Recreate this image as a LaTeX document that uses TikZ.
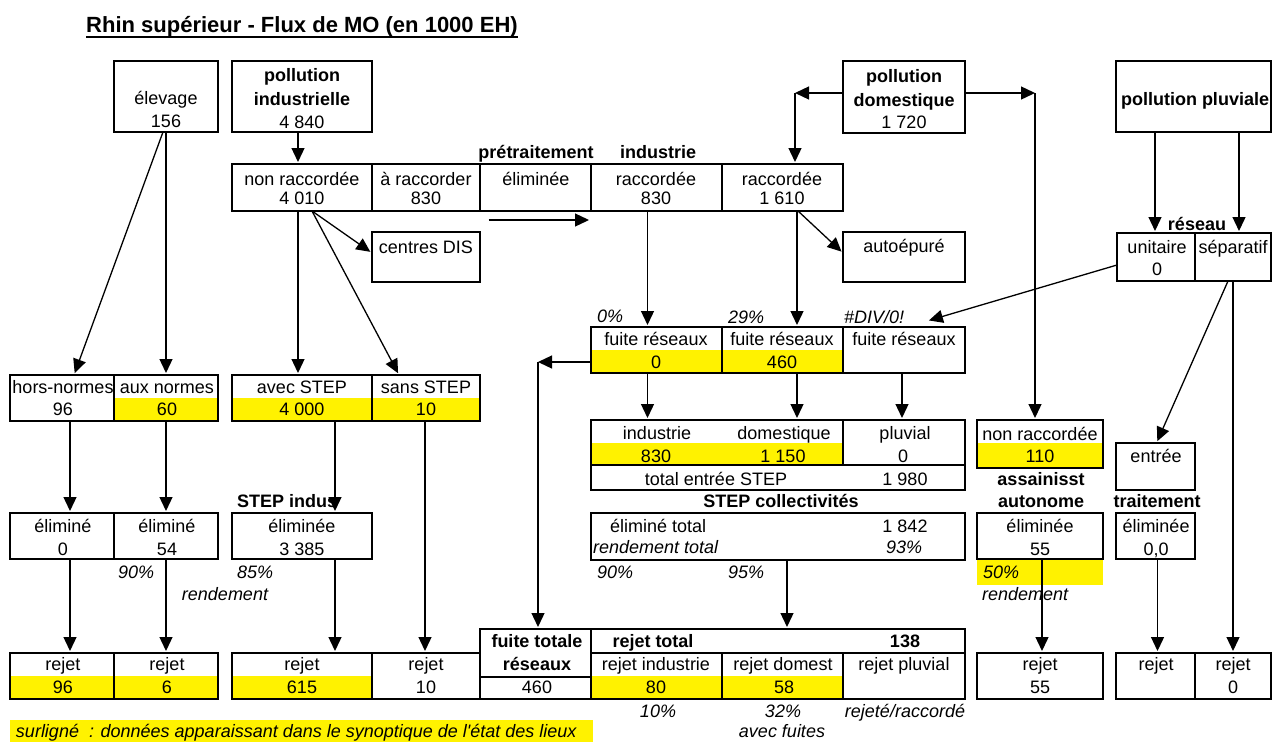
\documentclass[tikz,border=0pt]{standalone}
\usepackage{fontspec}
\setmainfont{Liberation Sans}
\usetikzlibrary{arrows.meta,calc}

\tikzset{
  cellb/.style={draw, line width=1.3pt, inner sep=0pt, outer sep=0pt},
  frameb/.style={draw, line width=2.2pt, inner sep=0pt, outer sep=0pt},
  txt/.style={anchor=base, inner sep=0pt, outer sep=0pt, font=\fontsize{18}{22}\selectfont},
  bld/.style={font=\fontsize{18}{22}\selectfont\bfseries},
  itl/.style={font=\fontsize{18}{22}\selectfont\itshape},
  arr/.style={line width=1.3pt, -{Triangle[length=14pt,width=13pt]}, shorten >=2pt},
}

% box node from its corners: [style]{name}{x1}{y1}{x2}{y2}
\newcommand{\bx}[6][cellb]{\node[#1, minimum width={#5pt-#3pt}, minimum height={#6pt-#4pt}] (#2) at ({(#3+#5)/2},{(#4+#6)/2}) {};}
% text node on a baseline: [style]{name}{x,y}{text}
\newcommand{\tx}[4][]{\node[txt,#1] (#2) at (#3) {#4};}

\begin{document}
\begin{tikzpicture}[x=1pt,y=-1pt]
\useasboundingbox (0,0) rectangle (1273,742);

% highlighted values
\fill[yellow] (114,398) rectangle (218,421);
\fill[yellow] (232,398) rectangle (480,421);
\fill[yellow] (591,350) rectangle (843,373);
\fill[yellow] (591,443) rectangle (843,465);
\fill[yellow] (977,443) rectangle (1103,468);
\fill[yellow] (977,560) rectangle (1103,585);
\fill[yellow] (10,676) rectangle (218,699);
\fill[yellow] (232,676) rectangle (372,699);
\fill[yellow] (591,676) rectangle (843,699);
\fill[yellow] (10,720) rectangle (593,742);

% title
\node[anchor=base west, inner sep=0pt, font=\fontsize{22}{26}\selectfont\bfseries] (title) at (86,32) {Rhin supérieur - Flux de MO (en 1000 EH)};
\draw[line width=1.6pt] ([yshift=-5pt]title.base west) -- ([yshift=-5pt]title.base east);

% sources
\bx[frameb]{elev}{114}{61}{218}{132}
\bx[frameb]{pind}{232}{61}{372}{132}
\bx[frameb]{pdom}{843}{61}{965}{133}
\bx[frameb]{ppluv}{1116}{61}{1271}{132}

% connection row
\bx{nr}{232}{164}{372}{211}
\bx{ar}{372}{164}{480}{211}
\bx{pe}{480}{164}{591}{211}
\bx{ri}{591}{164}{722}{211}
\bx{rd}{722}{164}{843}{211}
\bx[frameb]{row2}{232}{164}{843}{211}
\bx[frameb]{cdis}{372}{232}{480}{282}
\bx[frameb]{auto}{843}{232}{965}{282}

% rain network
\bx{uni}{1117}{233}{1195}{281}
\bx{sep}{1195}{233}{1271}{281}
\bx[frameb]{res}{1117}{233}{1271}{281}

% network leaks
\bx{f1}{591}{327}{722}{373}
\bx{f2}{722}{327}{843}{373}
\bx{f3}{843}{327}{965}{373}
\bx[frameb]{fr}{591}{327}{965}{373}

% treatment plant input and output
\bx{se1}{591}{420}{843}{465}
\bx{se2}{843}{420}{965}{465}
\bx{se3}{591}{465}{965}{490}
\bx[frameb]{se}{591}{420}{965}{490}
\bx[frameb]{sc}{591}{513}{965}{560}

% total discharge
\bx{bt1}{480}{629}{591}{677}
\bx{bt2}{480}{677}{591}{699}
\bx{bt3}{591}{629}{965}{653}
\bx{bt4}{591}{653}{722}{699}
\bx{bt5}{722}{653}{843}{699}
\bx{bt6}{843}{653}{965}{699}
\bx[frameb]{bt}{480}{629}{965}{699}

% livestock and industry columns
\bx{hn}{10}{375}{114}{421}
\bx{an}{114}{375}{218}{421}
\bx[frameb]{hna}{10}{375}{218}{421}
\bx{as}{232}{375}{372}{421}
\bx{ss}{372}{375}{480}{421}
\bx[frameb]{avs}{232}{375}{480}{421}
\bx{e0}{10}{513}{114}{559}
\bx{e54}{114}{513}{218}{559}
\bx[frameb]{el}{10}{513}{218}{559}
\bx[frameb]{e3}{232}{513}{372}{559}
\bx{rj96}{10}{653}{114}{699}
\bx{rj6}{114}{653}{218}{699}
\bx[frameb]{rjl}{10}{653}{218}{699}
\bx{rj615}{232}{653}{372}{699}
\bx{rj10}{372}{653}{480}{699}
\bx[frameb]{rjm}{232}{653}{480}{699}

% on-site sanitation and rain treatment
\bx[frameb]{nr110}{977}{420}{1103}{468}
\bx[frameb]{e55}{977}{513}{1103}{559}
\bx[frameb]{rj55}{977}{653}{1103}{699}
\bx[frameb]{ent}{1116}{443}{1195}{490}
\bx[frameb]{e00}{1116}{513}{1195}{559}
\bx{rjr1}{1116}{653}{1195}{699}
\bx{rjr2}{1195}{653}{1271}{699}
\bx[frameb]{rjr}{1116}{653}{1271}{699}

% texts: sources
\tx{tElev}{166,104}{élevage}
\tx{tElevV}{166,127}{156}
\tx[bld]{tPind1}{302,81}{pollution}
\tx[bld]{tPind2}{302,105}{industrielle}
\tx{tPindV}{302,128}{4 840}
\tx[bld]{tPdom1}{904,82}{pollution}
\tx[bld]{tPdom2}{904,106}{domestique}
\tx{tPdomV}{904,128}{1 720}
\tx[bld]{tPpluv}{1195,105}{pollution pluviale}

% texts: connection row
\tx[bld]{tPretr}{536,158}{prétraitement}
\tx[bld]{tIndu}{658,158}{industrie}
\tx{tNr}{302,185}{non raccordée}
\tx{tNrV}{302,204}{4 010}
\tx{tAr}{426,185}{à raccorder}
\tx{tArV}{426,204}{830}
\tx{tPe}{536,185}{éliminée}
\tx{tRi}{656,185}{raccordée}
\tx{tRiV}{656,204}{830}
\tx{tRd}{782,185}{raccordée}
\tx{tRdV}{782,204}{1 610}
\tx{tCdis}{426,253}{centres DIS}
\tx{tAuto}{904,252}{autoépuré}
\tx[bld]{tRes}{1197,230}{réseau}
\tx{tUni}{1157,253}{unitaire}
\tx{tUniV}{1157,275}{0}
\tx{tSep}{1233,253}{séparatif}

% texts: leaks
\tx[itl,anchor=base west]{tP0}{597,322}{0\%}
\tx[itl,anchor=base west]{tP29}{728,323}{29\%}
\tx[itl,anchor=base west]{tDiv}{844,323}{\#DIV/0!}
\tx{tF1}{656,345}{fuite réseaux}
\tx{tF1V}{656,368}{0}
\tx{tF2}{782,345}{fuite réseaux}
\tx{tF2V}{782,368}{460}
\tx{tF3}{904,345}{fuite réseaux}

% texts: treatment plant
\tx{tSi}{657,439}{industrie}
\tx{tSiV}{656,462}{830}
\tx{tSd}{784,439}{domestique}
\tx{tSdV}{783,462}{1 150}
\tx{tSp}{905,439}{pluvial}
\tx{tSpV}{903,462}{0}
\tx{tTot}{716,485}{total entrée STEP}
\tx{tTotV}{905,485}{1 980}
\tx[bld]{tColl}{781,507}{STEP collectivités}
\tx[anchor=base west]{tElt}{610,532}{éliminé total}
\tx{tEltV}{905,532}{1 842}
\tx[itl,anchor=base west]{tRt}{593,553}{rendement total}
\tx[itl]{tRtV}{904,553}{93\%}
\tx[itl,anchor=base west]{tP90b}{597,578}{90\%}
\tx[itl,anchor=base west]{tP95}{728,578}{95\%}

% texts: total discharge
\tx[bld]{tFt1}{537,647}{fuite totale}
\tx[bld]{tFt2}{537,670}{réseaux}
\tx{tFtV}{537,693}{460}
\tx[bld]{tRjt}{653,647}{rejet total}
\tx[bld]{tRjtV}{905,647}{138}
\tx{tRi2}{656,670}{rejet industrie}
\tx{tRi2V}{656,693}{80}
\tx{tRd2}{783,670}{rejet domest}
\tx{tRd2V}{784,693}{58}
\tx{tRp}{904,670}{rejet pluvial}
\tx[itl]{tP10}{658,717}{10\%}
\tx[itl]{tP32}{783,717}{32\%}
\tx[itl]{tRr}{905,717}{rejeté/raccordé}
\tx[itl]{tAf}{782,737}{avec fuites}

% texts: livestock and industry columns
\tx{tHn}{63,393}{hors-normes}
\tx{tHnV}{63,415}{96}
\tx{tAn}{167,393}{aux normes}
\tx{tAnV}{167,415}{60}
\tx{tAs}{302,393}{avec STEP}
\tx{tAsV}{302,415}{4 000}
\tx{tSs}{426,393}{sans STEP}
\tx{tSsV}{426,415}{10}
\tx[bld,anchor=base west]{tSi2}{237,507}{STEP indus}
\tx{tE0}{63,532}{éliminé}
\tx{tE0V}{63,555}{0}
\tx{tE54}{167,532}{éliminé}
\tx{tE54V}{167,555}{54}
\tx{tE3}{302,532}{éliminée}
\tx{tE3V}{302,555}{3 385}
\tx[itl,anchor=base west]{tP90}{118,578}{90\%}
\tx[itl,anchor=base west]{tP85}{237,578}{85\%}
\tx[itl]{tRend}{225,600}{rendement}
\tx{tR96}{63,670}{rejet}
\tx{tR96V}{63,693}{96}
\tx{tR6}{167,670}{rejet}
\tx{tR6V}{167,693}{6}
\tx{tR615}{302,670}{rejet}
\tx{tR615V}{302,693}{615}
\tx{tR10}{426,670}{rejet}
\tx{tR10V}{426,693}{10}

% texts: right columns
\tx{tNr2}{1040,440}{non raccordée}
\tx{tNr2V}{1040,462}{110}
\tx[bld]{tAss1}{1041,485}{assainisst}
\tx[bld]{tAss2}{1041,507}{autonome}
\tx{tE55}{1040,532}{éliminée}
\tx{tE55V}{1040,555}{55}
\tx[itl,anchor=base west]{tP50}{983,578}{50\%}
\tx[itl,anchor=base west]{tRend2}{982,600}{rendement}
\tx{tR55}{1040,670}{rejet}
\tx{tR55V}{1040,693}{55}
\tx{tEnt}{1156,462}{entrée}
\tx[bld]{tTrt}{1157,507}{traitement}
\tx{tE00}{1156,532}{éliminée}
\tx{tE00V}{1156,555}{0,0}
\tx{tRr1}{1156,670}{rejet}
\tx{tRr2}{1233,670}{rejet}
\tx{tRr2V}{1233,693}{0}

% footnote
\tx[itl,anchor=base west]{tFoot}{16,737}{surligné \ : données apparaissant dans le synoptique de l\textquotesingle état des lieux}

% bends of the routed connectors
\coordinate (cL) at (795,93);
\coordinate (cR) at (1035,93);
\coordinate (cF) at (538,362);

% flows
\draw[arr] ([xshift=-3pt]elev.south) -- ([xshift=12pt]hn.north);
\draw[arr] (elev.south) -- (an.north);
\draw[arr] ([xshift=-4pt]pind.south) -- ([xshift=-4pt]nr.north);
\draw[arr] ([xshift=10pt]nr.south) -- ([yshift=4pt]cdis.west);
\draw[arr] ([xshift=10pt]nr.south) -- ([xshift=-27pt]ss.north);
\draw[arr] ([xshift=-4pt]nr.south) -- ([xshift=-4pt]as.north);
\draw[arr] ([shift={(-47pt,-9pt)}]pe.south) -- ([yshift=-9pt]ri.south west);
\draw[arr, shorten >=0pt] ([yshift=4pt]pdom.west) -- (cL);
\draw[arr] (cL) -- ([xshift=12.5pt]rd.north);
\draw[arr, shorten >=0pt] ([yshift=4pt]pdom.east) -- (cR);
\draw[arr] (cR) -- ([xshift=-5pt]nr110.north);
\draw[arr] ([xshift=-9pt]ri.south) -- ([xshift=-9pt]f1.north);
\draw[arr] ([xshift=14.5pt]rd.south) -- ([xshift=14.5pt]f2.north);
\draw[arr] ([xshift=15.5pt]rd.south) -- ([yshift=4pt]auto.west);
\draw[arr] ([xshift=-38.5pt]ppluv.south) -- ([xshift=-1pt]uni.north);
\draw[arr] ([xshift=45.5pt]ppluv.south) -- ([xshift=6pt]sep.north);
\draw[arr] ([yshift=-8pt]uni.west) -- ([shift={(23pt,6pt)}]f3.north);
\draw[arr] ([xshift=-5pt]sep.south) -- ([xshift=1pt]ent.north);
\draw[arr] (sep.south) -- (rjr2.north);
\draw[arr, shorten >=0pt] ([yshift=-12pt]f1.west) -- (cF);
\draw[arr] (cF) -- (cF |- bt1.north);
\draw[arr] ([xshift=-9pt]f1.south) -- ([xshift=-69.5pt]se1.north);
\draw[arr] ([xshift=14.5pt]f2.south) -- ([xshift=80pt]se1.north);
\draw[arr] ([xshift=-2pt]f3.south) -- ([xshift=-2pt]se2.north);
\draw[arr] ([xshift=9pt]sc.south) -- ([xshift=9pt]bt3.north);
\draw[arr] ([xshift=8pt]hn.south) -- ([xshift=8pt]e0.north);
\draw[arr] (an.south) -- (e54.north);
\draw[arr] ([xshift=33pt]as.south) -- ([xshift=33pt]e3.north);
\draw[arr] ([xshift=-1pt]ss.south) -- ([xshift=-1pt]rj10.north);
\draw[arr] ([xshift=8pt]e0.south) -- ([xshift=8pt]rj96.north);
\draw[arr] (e54.south) -- (rj6.north);
\draw[arr] ([xshift=33pt]e3.south) -- ([xshift=33pt]rj615.north);
\draw[arr] ([xshift=2pt]e55.south) -- ([xshift=2pt]rj55.north);
\draw[arr] ([xshift=2pt]e00.south) -- ([xshift=2pt]rjr1.north);
\end{tikzpicture}
\end{document}
